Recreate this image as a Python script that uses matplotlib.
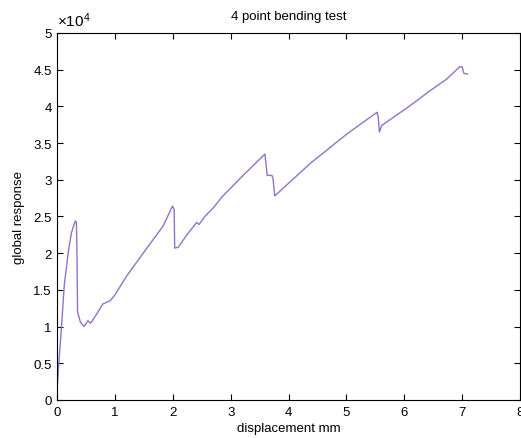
import numpy as np
import matplotlib
matplotlib.use('Agg')
import matplotlib.pyplot as plt
from matplotlib.ticker import FuncFormatter

# displacement [mm] and global response (load) read from the test record
disp = [0.0, 0.03, 0.07, 0.12, 0.19, 0.245, 0.31, 0.33, 0.34, 0.35, 0.40, 0.46,
        0.53, 0.575, 0.68, 0.79, 0.91, 0.995, 1.2, 1.54, 1.83, 1.99, 2.02,
        2.03, 2.09, 2.25, 2.41, 2.45, 2.55, 2.70, 2.84, 3.2, 3.59, 3.61,
        3.63, 3.71, 3.73, 3.76, 4.37, 5.0, 5.53, 5.55, 5.57, 5.61, 6.1,
        6.44, 6.73, 6.96, 7.0, 7.03, 7.09]
load = [1900, 5500, 9700, 15600, 20200, 22800, 24400, 24200, 20000, 12000, 10600, 10000,
        10800, 10450, 11700, 13100, 13500, 14300, 16900, 20600, 23700, 26400, 26000,
        20700, 20800, 22600, 24200, 23900, 25000, 26200, 27600, 30500, 33500, 32000,
        30600, 30600, 30200, 27800, 32200, 36200, 39200, 38500, 36500, 37400, 40100,
        42100, 43700, 45400, 45400, 44500, 44400]

plt.rcParams['font.family'] = ['Liberation Sans', 'DejaVu Sans']
plt.rcParams['font.size'] = 9.5
plt.rcParams['mathtext.fontset'] = 'custom'
plt.rcParams['mathtext.rm'] = 'Liberation Sans'
plt.rcParams['mathtext.it'] = 'Liberation Sans'

fig = plt.figure(figsize=(5.21, 4.39), dpi=100)
ax = fig.add_axes([0.110, 0.0866, 0.888, 0.836])

ax.plot(disp, load, color='#9172c9', lw=1.0)

ax.set_xlim(0, 8)
ax.set_ylim(0, 50000)
ax.set_xticks(np.arange(0, 9, 1))
ax.set_yticks(np.arange(0, 50001, 5000))

# tick labels in units of 1e4, multiplier drawn above the axis
ax.yaxis.set_major_formatter(FuncFormatter(lambda v, p: '%g' % (v / 1e4)))
ax.text(0.0, 1.01, r'$\times\mathrm{10}^{\mathrm{4}}$', transform=ax.transAxes,
        ha='left', va='bottom', fontsize=11)

ax.tick_params(direction='in', top=True, right=True, length=4, width=0.8, pad=4)
for s in ax.spines.values():
    s.set_linewidth(0.8)

ax.set_title('4 point bending test', fontsize=9.5, pad=10)
ax.set_xlabel('displacement mm', labelpad=3)
ax.set_ylabel('global response', labelpad=6)

plt.savefig('out.png', dpi=100)
